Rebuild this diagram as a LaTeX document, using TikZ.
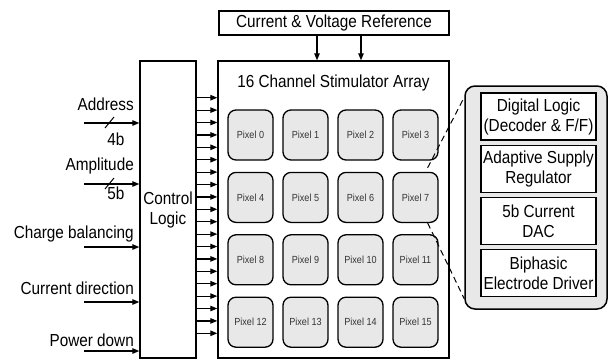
\documentclass[tikz,border=0pt]{standalone}
\usepackage{fontspec}
\setmainfont[FakeStretch=0.88]{Liberation Sans}
\usetikzlibrary{arrows.meta}
\begin{document}
\begin{tikzpicture}[x=1pt,y=-1pt,
  box/.style={draw, line width=1.4pt, inner sep=0pt, align=center},
  lbl/.style={font=\fontsize{17.4}{20}\selectfont},
  pix/.style={draw, line width=1.3pt, fill=black!9, rounded corners=8pt,
    minimum width=45pt, minimum height=50pt, inner sep=0pt,
    font=\fontsize{10.3}{11}\selectfont, text=black!80},
  arr/.style={-{Triangle[length=7pt,width=5.5pt]}, line width=1.2pt},
  dsh/.style={dash pattern=on 6pt off 4pt, line width=1pt},
]
\useasboundingbox (0,0) rectangle (613,360);

% blocks
\node[box, lbl, minimum width=230pt, minimum height=24pt] (ref) at (334,23) {Current \& Voltage Reference};
\node[box, minimum width=231pt, minimum height=297pt] (array) at (333.5,209.5) {};
\node[lbl] (title) at (333.5,83) {16 Channel Stimulator Array};
\node[box, lbl, minimum width=56pt, minimum height=297pt] (ctrl) at (168,209.5) {Control\\Logic};

% reference arrows
\draw[arr] ([xshift=-17pt]ref.south) -- ([xshift=-17pt]ref.south |- array.north);
\draw[arr] ([xshift=27pt]ref.south) -- ([xshift=27pt]ref.south |- array.north);

% control to array arrows
\foreach \i in {0,...,19} {
  \coordinate (c\i) at (0,{97.7+12.4*\i});
  \draw[arr] (ctrl.east |- c\i) -- (array.west |- c\i);
}

% pixels
\foreach \r in {0,...,3} {
  \foreach \c in {0,...,3} {
    \pgfmathtruncatemacro{\n}{4*\r+\c}
    \node[pix] (p\n) at ({250.5+55*\c},{135+62.4*\r}) {Pixel \n};
  }
}

% detail box
\node[draw, line width=1.5pt, fill=black!9, rounded corners=10pt,
  minimum width=142pt, minimum height=223pt] (detail) at (536,197.5) {};
\tikzset{inner/.style={box, lbl, fill=white, minimum width=115pt, minimum height=47pt}}
\node[inner] (d1) at (538.5,116.5) {Digital Logic\\(Decoder \& F/F)};
\node[inner] (d2) at (538.5,169) {Adaptive Supply\\Regulator};
\node[inner] (d3) at (538.5,221) {5b Current\\DAC};
\node[inner] (d4) at (538.5,273) {Biphasic\\Electrode Driver};

% zoom lines
\draw[dsh] ([shift={(-11pt,4pt)}]p7.north east) -- ([yshift=-12pt]detail.north west);
\draw[dsh] ([xshift=-11pt]p7.south east) -- ([yshift=11pt]detail.south west);

% inputs
\foreach \n/\ya/\yl/\t in {a/123/104/Address, b/184/166/Amplitude, c/247/234/Charge balancing, d/302/288/Current direction, e/351/340/Power down} {
  \coordinate (in\n) at (84,\ya);
  \draw[arr] (in\n) -- (ctrl.west |- in\n);
  \node[lbl, anchor=east, inner sep=0pt] (l\n) at (134,\yl) {\t};
}
\draw[line width=1pt] ([shift={(21pt,-5pt)}]ina) -- ([shift={(30pt,6pt)}]ina);
\node[lbl, inner sep=0pt] (wa) at (116,139) {4b};
\draw[line width=1pt] ([shift={(21pt,-5pt)}]inb) -- ([shift={(30pt,6pt)}]inb);
\node[lbl, inner sep=0pt] (wb) at (116,193) {5b};
\end{tikzpicture}
\end{document}
